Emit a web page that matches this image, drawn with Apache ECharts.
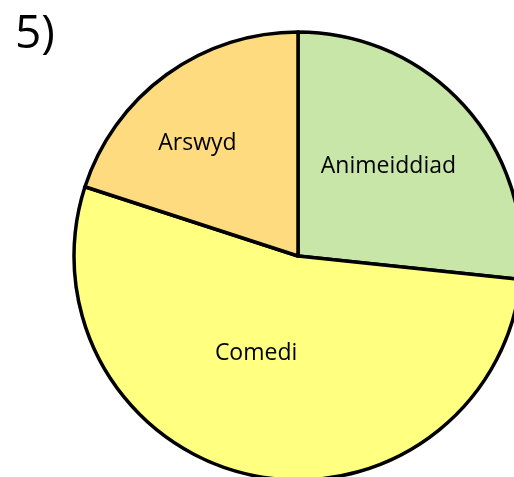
<!DOCTYPE html>
<html>
<head>
<meta charset="utf-8">
<script src="https://cdn.jsdelivr.net/npm/echarts@6/dist/echarts.min.js"></script>
<style>
  html, body { margin: 0; padding: 0; background: #fff; }
  #chart { width: 514px; height: 477px; }
</style>
</head>
<body>
<div id="chart"></div>
<script>
// data (slices, clockwise from 12 o'clock)
const categories = ['Animeiddiad', 'Comedi', 'Arswyd'];
const values = [8, 16, 6];
const sliceColors = ['#C8E6A8', '#FFFF80', '#FFDB80'];
// nudge labels where the original put them
const labelOffsets = [[5, -13], [-18, -15], [-33, -20]];

const chart = echarts.init(document.getElementById('chart'));

chart.setOption({
  animation: false,
  title: {
    text: '5)',
    left: 10,
    top: 7,
    textStyle: {
      fontFamily: 'Open Sans',
      fontSize: 46,
      fontWeight: 'normal',
      color: '#000'
    }
  },
  series: [
    {
      type: 'pie',
      center: [298, 256],
      radius: 224,
      startAngle: 90,
      clockwise: true,
      label: {
        position: 'inside',
        fontFamily: 'Open Sans',
        fontSize: 23,
        color: '#000'
      },
      labelLine: { show: false },
      itemStyle: {
        borderColor: '#000',
        borderWidth: 3.5
      },
      data: categories.map((name, i) => ({
        name: name,
        value: values[i],
        itemStyle: { color: sliceColors[i] },
        label: { offset: labelOffsets[i] }
      }))
    }
  ]
});
</script>
</body>
</html>
